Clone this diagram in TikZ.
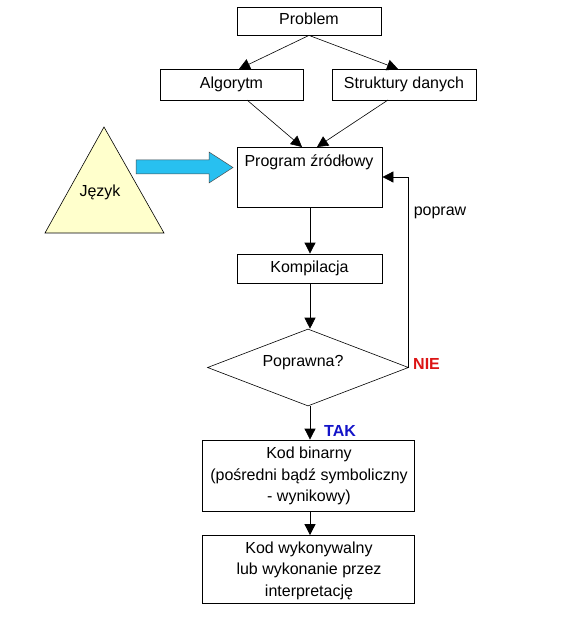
\documentclass[tikz,border=0pt]{standalone}
\usepackage{fontspec}
\setmainfont{Liberation Sans}
\usetikzlibrary{arrows.meta,shapes.geometric}
\definecolor{langfill}{RGB}{255,255,204}
\definecolor{bluearrow}{RGB}{40,192,240}
\definecolor{nie}{RGB}{220,20,20}
\definecolor{tak}{RGB}{20,20,200}
\begin{document}
\begin{tikzpicture}[x=1pt,y=-1pt,
  box/.style={draw=black,line width=0.8pt,minimum width=#1,inner sep=0pt},
  txt/.style={anchor=base,inner sep=0pt,font=\fontsize{16}{21}\selectfont},
  arr/.style={line width=0.8pt,-{Triangle[length=11pt,width=11pt]}},
  thinarr/.style={line width=0.6pt,-{Triangle[length=11pt,width=11pt]}}]
\useasboundingbox (0,0) rectangle (561,617);
% boxes
\node[box=144pt,minimum height=28pt] (problem) at (309,21) {};
\node[box=143pt,minimum height=31pt] (alg) at (231.5,84.5) {};
\node[box=144pt,minimum height=31pt] (struct) at (404,84.5) {};
\node[box=145pt,minimum height=60pt] (prog) at (309.5,177) {};
\node[box=145pt,minimum height=29pt] (komp) at (309.5,268.5) {};
\node[draw,diamond,line width=0.6pt,minimum width=201pt,minimum height=77pt,inner sep=0pt] (dec) at (308,367.5) {};
\node[box=212pt,minimum height=71pt] (bin) at (308,475.5) {};
\node[box=212pt,minimum height=68pt] (exe) at (308,569.5) {};
% language triangle
\coordinate (langA) at (104,127);
\coordinate (langR) at (164,233);
\coordinate (langL) at (45,233);
\filldraw[fill=langfill,draw=black,line width=0.6pt] (langA) -- (langR) -- (langL) -- cycle;
% texts
\node[txt] (tproblem) at (309,25) {Problem};
\node[txt] (talg) at (231.5,89) {Algorytm};
\node[txt] (tstruct) at (404,89) {Struktury danych};
\node[txt] (tprog) at (309,167) {Program źródłowy};
\node[txt] (tkomp) at (309.5,272) {Kompilacja};
\node[txt] (tdec) at (303,366) {Poprawna?};
\node[txt] (tlang) at (100,197) {Język};
\node[txt] (tpopraw) at (440,216) {popraw};
\node[txt,font=\fontsize{16}{21}\selectfont\bfseries,text=nie,anchor=base west] (tnie) at (413,369) {NIE};
\node[txt,font=\fontsize{16}{21}\selectfont\bfseries,text=tak,anchor=base west] (ttak) at (324,436) {TAK};
\node[txt] (tbin1) at (309,458) {Kod binarny};
\node[txt] (tbin2) at (309,480) {(pośredni bądź symboliczny};
\node[txt] (tbin3) at (309,501) {- wynikowy)};
\node[txt] (texe1) at (309,553) {Kod wykonywalny};
\node[txt] (texe2) at (309,574) {lub wykonanie przez};
\node[txt] (texe3) at (309,596) {interpretację};
% connectors
\draw[thinarr] (problem.south) -- (239,69);
\draw[thinarr] (problem.south) -- (398,69);
\draw[thinarr] (247,100) -- (302,147);
\draw[thinarr] (388,100) -- (317,147);
\draw[arr] (prog.south -| 310,0) -- (komp.north -| 310,0);
\draw[arr] (komp.south -| 310,0) -- (dec.north -| 310,0);
\draw[arr] (dec.east) |- (prog.east);
\draw[arr] (dec.south -| 310,0) -- (bin.north -| 310,0);
\draw[arr] (bin.south -| 310,0) -- (exe.north -| 310,0);
% blue block arrow
\filldraw[fill=bluearrow,draw=black!70,line width=0.5pt]
  (136,160) -- (209,160) -- (209,152) -- (233,167.5) -- (209,183) -- (209,174) -- (136,174) -- cycle;
\end{tikzpicture}
\end{document}
